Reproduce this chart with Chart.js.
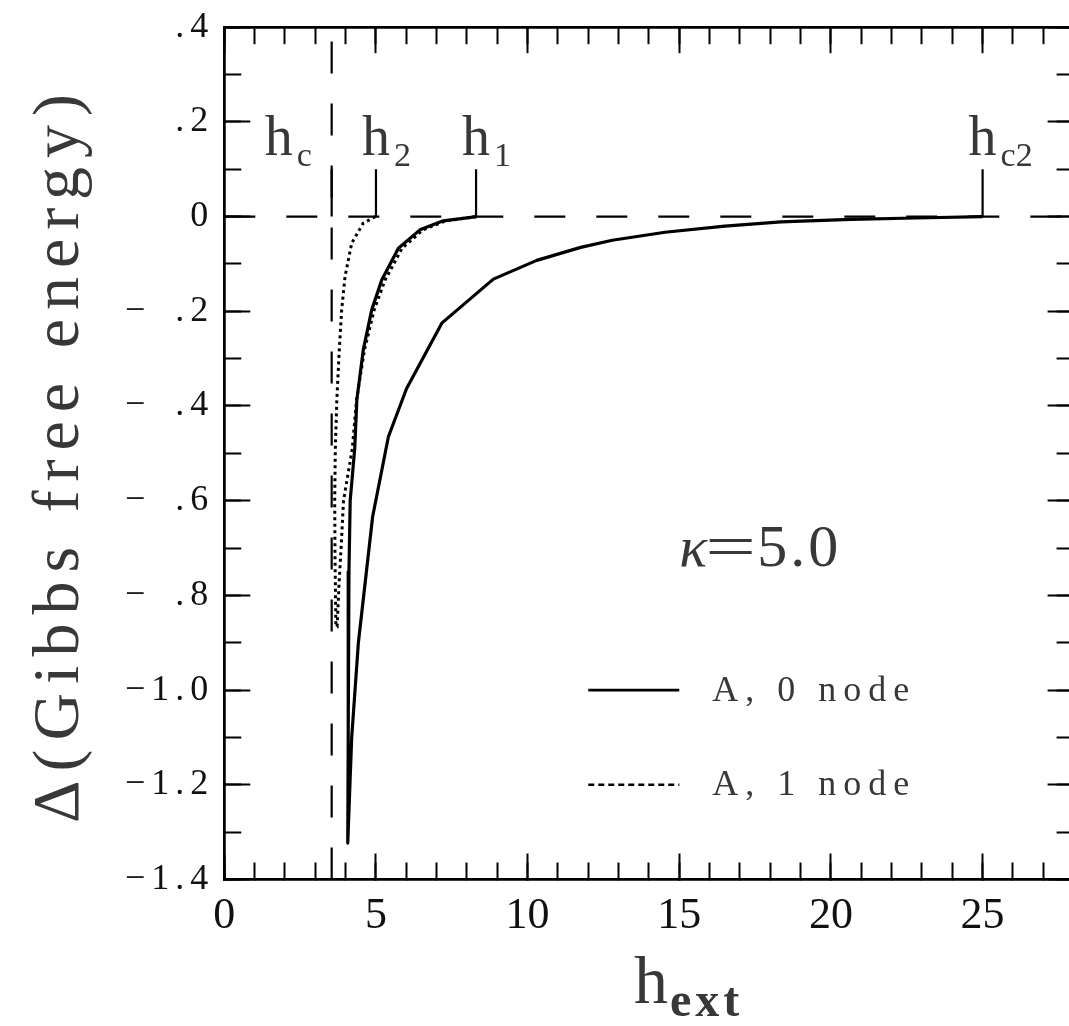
<!DOCTYPE html>
<html><head><meta charset="utf-8">
<script src="https://cdn.jsdelivr.net/npm/chart.js@4.4.1/dist/chart.umd.min.js"></script>
<style>html,body{margin:0;padding:0;overflow:hidden;background:#fff}</style>
</head><body>
<canvas id="c" width="1078" height="1026" style="width:1078px;height:1026px;display:block"></canvas>
<script>
// ---- data ----
const xRange = [0, 28];
const yRange = [-1.4, 0.4];
const xMajorStep = 5, xMinorStep = 1;
const yMajorStep = 0.2, yMinorStep = 0.1;

// A, 0 node (solid): from h1 down the steep branch, then up the gradual branch to hc2
const node0X = [8.32, 7.22, 6.45, 5.74, 5.19, 4.86, 4.58, 4.37, 4.30, 4.15, 4.11, 4.09, 4.08, 4.07,
                4.20, 4.42, 4.89, 5.41, 6.01, 7.17, 8.87, 10.30, 11.75, 12.79, 14.53, 16.5, 18.35, 20.66, 22.8, 25.0];
const node0Y = [0, -0.009, -0.028, -0.067, -0.134, -0.197, -0.282, -0.387, -0.49, -0.6, -0.75, -0.9, -1.1, -1.323,
                -1.10, -0.90, -0.634, -0.465, -0.363, -0.225, -0.132, -0.0925, -0.065, -0.050, -0.033, -0.020, -0.011, -0.0057, -0.003, 0];

// A, 1 node (dotted): from h2 down, then back up to h1
const node1X = [4.98, 4.58, 4.20, 3.98, 3.87, 3.79, 3.71, 3.66, 3.64, 3.65, 3.68,
                3.72, 3.78, 3.85, 3.93, 4.22, 4.36, 4.62, 4.94, 5.30, 5.86, 6.55, 7.3, 8.3];
const node1Y = [0, -0.014, -0.056, -0.127, -0.197, -0.282, -0.387, -0.49, -0.6, -0.72, -0.866,
                -0.866, -0.78, -0.70, -0.6, -0.49, -0.387, -0.282, -0.197, -0.134, -0.067, -0.028, -0.009, 0];

// critical-field markers
const markerMain = ['h', 'h', 'h', 'h'];
const markerSub = ['c', '2', '1', 'c2'];
const markerX = [3.54, 5.0, 8.3, 25.0];
const markerTop = 0.1;
const zeroLevel = 0;

const kappaText = ['κ', '=', '5.0'];
const legendLabels = ['A, 0 node', 'A, 1 node'];
const legendY = [-1.0, -1.2];
const legendX = [12.0, 15.0];
const yTitle = 'Δ(Gibbs free energy)';
const xTitleMain = 'h', xTitleSub = 'ext';

// ---- helpers ----
const pts = (xs, ys) => xs.map((x, i) => ({x, y: ys[i]}));
const FONT = "'Liberation Serif', 'DejaVu Serif', serif";
const INK = '#000';
const TXT = '#383838';
const SP = '\u2006';

function fmtY(v) {
  const r = Math.round(v * 10) / 10;
  if (Math.abs(r) < 1e-9) return '0';
  const s = Math.abs(r).toFixed(1);
  let chars;
  if (s.startsWith('0')) {
    chars = r < 0 ? ['\u2212', '\u2007', '.', s[2]] : ['.', s[2]];
  } else {
    chars = (r < 0 ? ['\u2212'] : []).concat(s.split(''));
  }
  return chars.join(SP);
}

const datasets = [];
datasets.push({label: 'hc line', data: [{x: markerX[0], y: yRange[0]}, {x: markerX[0], y: yRange[1]}],
  borderColor: INK, borderWidth: 2.2, borderDash: [32, 30], pointRadius: 0});
datasets.push({label: 'zero', data: [{x: xRange[0], y: zeroLevel}, {x: xRange[1], y: zeroLevel}],
  borderColor: INK, borderWidth: 2.2, borderDash: [31, 31], pointRadius: 0});
markerX.forEach((m, i) => datasets.push({label: 'marker ' + markerSub[i],
  data: [{x: m, y: zeroLevel}, {x: m, y: markerTop}], borderColor: INK, borderWidth: 2.2, pointRadius: 0}));
datasets.push({label: legendLabels[0], data: pts(node0X, node0Y), borderColor: INK, borderWidth: 3.2,
  pointRadius: 0, borderJoinStyle: 'round'});
datasets.push({label: legendLabels[1], data: pts(node1X, node1Y), borderColor: INK, borderWidth: 3,
  borderDash: [3, 3.5], pointRadius: 0});

function axis(pos, axisKey, step, tickLen, showLabels, weight, size, extra) {
  const isX = axisKey === 'x';
  const range = isX ? xRange : yRange;
  return {
    type: 'linear', position: pos, axis: axisKey, min: range[0], max: range[1], weight,
    grid: {drawOnChartArea: false, drawTicks: true, tickLength: tickLen, tickColor: INK, tickWidth: 2, color: INK},
    border: {display: true, color: INK, width: 2.5},
    ticks: Object.assign({display: showLabels, stepSize: step, includeBounds: false, autoSkip: false, maxRotation: 0, color: '#111'}, extra || {}),
    afterFit: (s) => {
      if (isX) s.height = size; else s.width = size;
      s.paddingTop = 0; s.paddingBottom = 0; s.paddingLeft = 0; s.paddingRight = 0;
    }
  };
}

const W = 1078, H = 1026;
const plotLeft = 224.3, plotRight = 1073.6, plotTop = 27.2, plotBottom = 879.5;

const scales = {
  x: axis('bottom', 'x', xMajorStep, -26, true, 1, H - plotBottom, {
    padding: 37, font: {family: FONT, size: 44},
    callback: (v) => (Math.abs(v % xMajorStep) < 1e-9 ? String(v) : '')}),
  xMinor: axis('bottom', 'x', xMinorStep, -17, false, 0, 0),
  xTop: axis('top', 'x', xMajorStep, -26, false, 1, 0),
  xTopMinor: axis('top', 'x', xMinorStep, -17, false, 0, 0),
  y: axis('left', 'y', yMajorStep, -26, true, 1, plotLeft, {
    padding: 42, font: {family: FONT, size: 36}, callback: (v) => fmtY(v)}),
  yMinor: axis('left', 'y', yMinorStep, -17, false, 0, 0),
  yRight: axis('right', 'y', yMajorStep, -26, false, 1, 0),
  yRightMinor: axis('right', 'y', yMinorStep, -17, false, 0, 0)
};

function subText(ctx, x, base, main, sub, mainSize, subSize, subDrop, gap, subBold) {
  ctx.font = mainSize + 'px ' + FONT;
  ctx.textAlign = 'left';
  ctx.textBaseline = 'alphabetic';
  ctx.fillText(main, x, base);
  const w = ctx.measureText(main).width;
  ctx.font = (subBold ? 'bold ' : '') + subSize + 'px ' + FONT;
  ctx.fillText(sub, x + w + gap, base + subDrop);
}

const annotations = {
  id: 'annotations',
  afterDraw(chart) {
    const {ctx} = chart;
    const sx = chart.scales.x, sy = chart.scales.y;
    ctx.save();
    ctx.letterSpacing = '0px';
    ctx.fillStyle = TXT;
    const y0 = sy.getPixelForValue(zeroLevel);
    markerX.forEach((m, i) => {
      const px = sx.getPixelForValue(m);
      const left = i === 0 ? px - 67 : px - 14;
      subText(ctx, left, y0 - 62, markerMain[i], markerSub[i], 56, 34, 11, 4, false);
    });
    // kappa = 5.0
    ctx.textBaseline = 'alphabetic';
    ctx.textAlign = 'left';
    const kx = sx.getPixelForValue(15.0), ky = sy.getPixelForValue(-0.738);
    ctx.font = 'italic 58px ' + FONT;
    ctx.fillText(kappaText[0], kx, ky);
    ctx.font = '60px ' + FONT;
    ctx.save();
    ctx.translate(kx + 26, ky);
    ctx.scale(1.5, 1);
    ctx.fillText(kappaText[1], 0, 0);
    ctx.restore();
    ctx.letterSpacing = '3px';
    ctx.fillText(kappaText[2], kx + 78, ky);
    ctx.letterSpacing = '0px';
    // legend
    const ds = chart.data.datasets;
    [ds[ds.length - 2], ds[ds.length - 1]].forEach((d, i) => {
      const ly = sy.getPixelForValue(legendY[i]);
      const lx0 = sx.getPixelForValue(legendX[0]), lx1 = sx.getPixelForValue(legendX[1]);
      ctx.save();
      ctx.strokeStyle = d.borderColor;
      ctx.lineWidth = i === 0 ? 2.6 : 2.4;
      ctx.setLineDash(d.borderDash ? [6, 4] : []);
      ctx.beginPath(); ctx.moveTo(lx0, ly); ctx.lineTo(lx1, ly); ctx.stroke();
      ctx.restore();
      ctx.font = '36px ' + FONT;
      ctx.letterSpacing = '7px';
      ctx.textBaseline = 'middle';
      ctx.fillText(d.label, lx1 + 33, ly + 1);
    });
    // x title
    ctx.letterSpacing = '0px';
    ctx.textBaseline = 'alphabetic';
    ctx.font = '68px ' + FONT;
    ctx.fillText(xTitleMain, 634, 1003);
    const hw = ctx.measureText(xTitleMain).width;
    ctx.font = 'bold 48px ' + FONT;
    ctx.letterSpacing = '4px';
    ctx.fillText(xTitleSub, 634 + hw + 2, 1016);
    // y title
    ctx.save();
    ctx.translate(78, 459);
    ctx.rotate(-Math.PI / 2);
    ctx.font = '66px ' + FONT;
    ctx.letterSpacing = '9px';
    ctx.textAlign = 'center';
    ctx.fillText(yTitle, 5, 0);
    ctx.restore();
    ctx.restore();
  }
};

new Chart(document.getElementById('c'), {
  type: 'line',
  data: {datasets},
  options: {
    responsive: false, animation: false, devicePixelRatio: 1, events: [],
    layout: {padding: {left: 0, right: W - plotRight, top: plotTop, bottom: 0}},
    plugins: {legend: {display: false}, tooltip: {enabled: false}, title: {display: false}},
    elements: {line: {tension: 0, fill: false}, point: {radius: 0}},
    scales
  },
  plugins: [annotations]
});
</script>
</body></html>
